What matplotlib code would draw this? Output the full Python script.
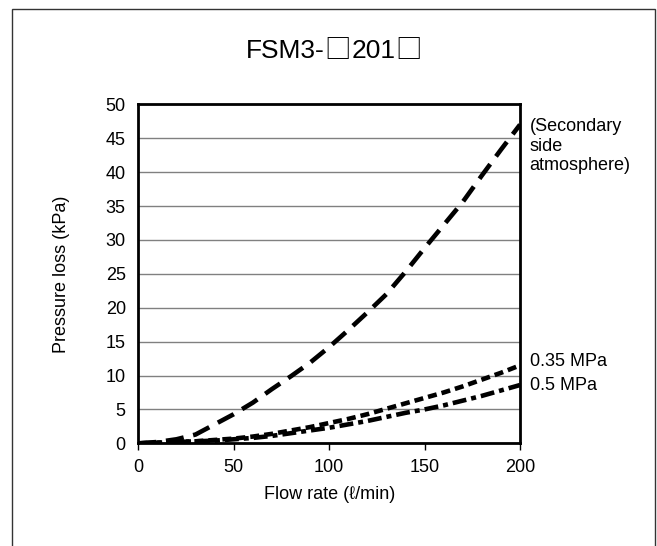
import matplotlib
matplotlib.use('Agg')
import matplotlib.pyplot as plt
from matplotlib.patches import Rectangle
from matplotlib.offsetbox import TextArea, HPacker, AnchoredOffsetbox

plt.rcParams['font.family'] = ['Liberation Sans', 'DejaVu Sans']
plt.rcParams['lines.scale_dashes'] = False

flow = [0, 10, 20, 30, 40, 50, 60, 70, 80, 90, 100, 110, 120, 130, 140, 150, 160, 170, 180, 190, 200]
atmos = [0, 0.2, 0.6, 1.3, 2.8, 4.3, 6.0, 8.0, 9.9, 11.9, 14.2, 16.7, 19.3, 22.0, 25.3, 28.8, 32.2, 35.6, 39.5, 43.3, 47.0]
mpa035 = [0, 0.1, 0.2, 0.3, 0.5, 0.7, 1.0, 1.4, 1.9, 2.4, 3.0, 3.6, 4.3, 5.1, 5.9, 6.7, 7.5, 8.4, 9.4, 10.4, 11.5]
mpa05 = [0, 0.1, 0.2, 0.3, 0.4, 0.6, 0.8, 1.1, 1.5, 1.9, 2.3, 2.8, 3.3, 3.9, 4.5, 5.0, 5.6, 6.3, 7.0, 7.8, 8.6]

xticks = [0, 50, 100, 150, 200]
yticks = [0, 5, 10, 15, 20, 25, 30, 35, 40, 45, 50]
title_parts = ['FSM3-', '□', '201', '□']

fig = plt.figure(figsize=(6.57, 5.46), dpi=100)
ax = fig.add_axes([0.2105, 0.188, 0.581, 0.621])

# outer frame
fig.patches.append(Rectangle((0.019, -0.05), 0.978, 1.0335, transform=fig.transFigure,
                             fill=False, edgecolor='#333333', linewidth=1))

ax.set_axisbelow(True)
ax.yaxis.grid(True, color='#808080', linewidth=1)

lw = 3.3
l1, = ax.plot(flow, atmos, color='black', linewidth=lw, dash_capstyle='butt')
l1.set_dashes([13, 7])
l2, = ax.plot(flow, mpa035, color='black', linewidth=lw, dash_capstyle='butt')
l2.set_dashes([6.5, 3.6])
l3, = ax.plot(flow, mpa05, color='black', linewidth=lw, dash_capstyle='butt')
l3.set_dashes([10, 3.6, 3.6, 3.6])

ax.set_xlim(0, 200)
ax.set_ylim(0, 50)
ax.set_xticks(xticks)
ax.set_yticks(yticks)
ax.tick_params(axis='y', length=0, pad=9, labelsize=13)
ax.tick_params(axis='x', length=5, width=1, direction='out', pad=6, labelsize=13)
for s in ax.spines.values():
    s.set_linewidth(2)

ax.set_xlabel('Flow rate (ℓ/min)', fontsize=13)
ax.xaxis.set_label_coords(0.5, -0.15)
ax.xaxis.label.set_va('center')
ax.set_ylabel('Pressure loss (kPa)', fontsize=13)
ax.yaxis.set_label_coords(-0.2, 0.5)
ax.yaxis.label.set_va('center')

# title: boxes drawn with the CJK white square glyph
boxes = []
for part in title_parts:
    fam = ['Noto Sans CJK JP'] if part == '□' else ['Liberation Sans', 'DejaVu Sans']
    boxes.append(TextArea(part, textprops=dict(fontsize=19, family=fam, color='black')))
title = AnchoredOffsetbox(loc='center', child=HPacker(children=boxes, sep=0, pad=0, align='baseline'),
                          bbox_to_anchor=(0.508, 0.908), bbox_transform=fig.transFigure,
                          frameon=False, pad=0, borderpad=0)
ax.add_artist(title)

ax.text(205, 43.8, '(Secondary\nside\natmosphere)', fontsize=13, va='center', ha='left',
        linespacing=1.2, clip_on=False)
ax.text(205, 12.0, '0.35 MPa', fontsize=13, va='center', ha='left', clip_on=False)
ax.text(205, 8.6, '0.5 MPa', fontsize=13, va='center', ha='left', clip_on=False)

fig.savefig('out.png', dpi=100)
